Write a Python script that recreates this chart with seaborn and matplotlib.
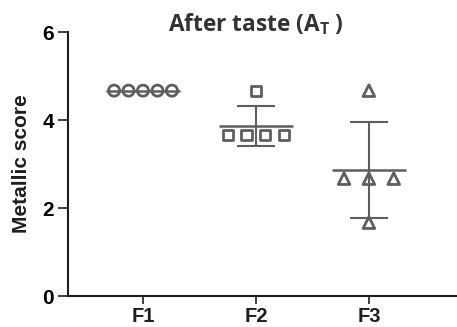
import numpy as np
import pandas as pd
import matplotlib
matplotlib.use("Agg")
import matplotlib.pyplot as plt
import seaborn as sns

# Metallic after-taste scores per formulation (five panelists each)
categories = ["F1", "F2", "F3"]
f1_scores = [4.667, 4.667, 4.667, 4.667, 4.667]
f2_scores = [4.667, 3.667, 3.667, 3.667, 3.667]
f3_scores = [4.667, 2.667, 2.667, 2.667, 1.667]
markers = ["o", "s", "^"]
marker_sizes = [64, 55, 70]
# horizontal spread between tied scores, in category units
spread = [0.128, 0.166, 0.22]
yticks = [0, 2, 4, 6]

sns.set_theme(style="white")
plt.rcParams["font.family"] = ["Liberation Sans", "DejaVu Sans"]

gray = "#5e5e5e"
dark = "#1e1e1e"

fig = plt.figure(figsize=(4.57, 3.27), dpi=100)
ax = fig.add_axes([68 / 457, 31 / 327, 1 - 68 / 457, 264 / 327])


def spread_positions(values, center, step):
    """Place tied values side by side around the category centre."""
    values = np.asarray(values)
    xs = np.full(len(values), float(center))
    for v in np.unique(values):
        idx = np.where(np.isclose(values, v))[0]
        offs = (np.arange(len(idx)) - (len(idx) - 1) / 2) * step
        xs[idx] = center + offs
    return xs


groups = [f1_scores, f2_scores, f3_scores]
for i, (scores, mk, ms, st) in enumerate(zip(groups, markers, marker_sizes, spread)):
    df = pd.DataFrame({"x": spread_positions(scores, i, st), "score": scores})
    sns.scatterplot(data=df, x="x", y="score", marker=mk, s=ms,
                    facecolor="none", edgecolor=gray, linewidth=2.0,
                    ax=ax, zorder=3, legend=False)
    mean = np.mean(scores)
    sd = np.std(scores, ddof=1)
    ax.hlines(mean, i - 0.33, i + 0.33, color=gray, lw=1.8, zorder=4)
    if sd > 0:
        ax.vlines(i, mean - sd, mean + sd, color=gray, lw=1.5, zorder=4)
        ax.hlines([mean - sd, mean + sd], i - 0.165, i + 0.165,
                  color=gray, lw=1.5, zorder=4)

ax.set_xlim(-0.664, 2.78)
ax.set_ylim(0, 6)
ax.set_xticks(range(len(categories)))
ax.set_xticklabels(categories)
ax.set_yticks(yticks)
ax.set_yticklabels([str(t) for t in yticks])
ax.set_xlabel("")
ax.set_ylabel("Metallic score", fontsize=15, fontweight="bold",
              color=dark, labelpad=8)

for side in ["top", "right"]:
    ax.spines[side].set_visible(False)
for side in ["left", "bottom"]:
    ax.spines[side].set_color(dark)
    ax.spines[side].set_linewidth(1.5)

ax.tick_params(axis="y", which="major", direction="out", length=7, width=1.2,
               color=dark, labelsize=15, labelcolor="black", pad=3, left=True)
ax.tick_params(axis="x", which="major", direction="out", length=6, width=1.2,
               color=dark, labelsize=14.5, labelcolor=dark, pad=2, bottom=True)
for lab in ax.get_xticklabels() + ax.get_yticklabels():
    lab.set_fontweight("bold")

fig.text(256 / 457, 1 - 24 / 327, r"After taste (A$_{\mathregular{T}}$ )",
         ha="center", va="center", fontsize=16.3, fontweight="bold",
         color="#333333", family=["Open Sans", "DejaVu Sans"])

fig.savefig("out.png", dpi=100, facecolor="white")
